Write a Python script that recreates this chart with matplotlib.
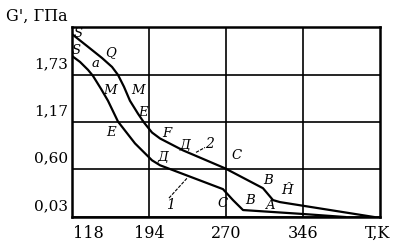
import matplotlib
matplotlib.use("Agg")
import matplotlib.pyplot as plt
from matplotlib.transforms import ScaledTranslation

# ---- data (T in K, G' in GPa) ----
t_curve1 = [118.0, 125.9, 133.8, 138.7, 146.6, 153.5, 163.4, 180.2, 197.0, 204.9,
            267.0, 276.9, 286.8, 346.0, 387.5]
g_curve1 = [1.954, 1.883, 1.788, 1.716, 1.562, 1.419, 1.170, 0.909, 0.707, 0.648,
            0.363, 0.232, 0.113, 0.066, 0.030]

t_curve2 = [118.0, 132.8, 147.6, 157.5, 163.4, 169.3, 175.2, 183.1, 189.1, 197.0,
            204.9, 227.6, 269.0, 306.5, 316.4, 323.3, 416.1]
g_curve2 = [2.215, 2.073, 1.930, 1.823, 1.728, 1.586, 1.419, 1.265, 1.158, 1.039,
            0.968, 0.826, 0.612, 0.374, 0.232, 0.208, 0.030]

x_ticks = [194, 270, 346]
x_tick_labels = ["194", "270", "346"]
y_ticks = [0.03, 0.60, 1.17, 1.73]
y_tick_labels = ["0,03", "0,60", "1,17", "1,73"]

point_labels = ["S", "S", "Q", "a", "M", "M", "E", "E", "F", "Д", "Д",
                "C", "C", "B", "B", "Ĥ", "A"]
point_label_t = [123.9, 121.9, 156.5, 140.7, 155.5, 183.1, 188.1, 156.5, 211.8,
                 229.5, 207.8, 280.9, 266.1, 311.5, 293.7, 330.2, 313.4]
point_label_g = [2.227, 2.025, 1.989, 1.859, 1.538, 1.538, 1.277, 1.039, 1.027,
                 0.885, 0.743, 0.766, 0.196, 0.469, 0.232, 0.351, 0.173]

curve_names = ["1", "2"]
curve_name_t = [214.7, 254.2]
curve_name_g = [0.173, 0.897]
leader_t = [[213.7, 231.5], [240.4, 249.3]]
leader_g = [[0.256, 0.493], [0.802, 0.861]]

# ---- figure ----
W, H = 406, 247
fig = plt.figure(figsize=(W / 100, H / 100), dpi=100)
ax = fig.add_axes([72 / W, 1 - 217 / H, (380 - 72) / W, (217 - 27) / H])

serif = ["DejaVu Serif"]

ax.plot(t_curve1, g_curve1, color="black", lw=1.6, solid_joinstyle="round")
ax.plot(t_curve2, g_curve2, color="black", lw=1.6, solid_joinstyle="round")

ax.set_xlim(118, 422)
ax.set_ylim(0.03, 2.30)

ax.set_xticks(x_ticks)
ax.set_xticklabels(x_tick_labels, family=serif, fontsize=11.5)
ax.set_yticks(y_ticks)
ax.set_yticklabels(y_tick_labels, family=serif, fontsize=11)
ax.tick_params(axis="both", length=0)
ax.tick_params(axis="x", pad=6)
ax.tick_params(axis="y", pad=3)
ax.grid(True, color="black", lw=1.2)
ax.set_axisbelow(True)

for lab in ax.get_yticklabels():
    lab.set_transform(lab.get_transform() + ScaledTranslation(0, 12 / 100, fig.dpi_scale_trans))

for s in ax.spines.values():
    s.set_linewidth(1.8)

xt = ax.get_xaxis_transform()
ax.text(133.8, -0.04, "118", transform=xt, ha="center", va="top",
        family=serif, fontsize=11.5)
ax.text(420, -0.04, "T,K", transform=xt, ha="center", va="top",
        family=serif, fontsize=11.5)

fig.text(6 / W, 1 - 16 / H, "G', ГПа", ha="left", va="center",
         family=serif, fontsize=11.5)

for s, t, g in zip(point_labels, point_label_t, point_label_g):
    ax.text(t, g, s, ha="center", va="center", family=serif, style="italic",
            fontsize=9.5, clip_on=False)

for s, t, g in zip(curve_names, curve_name_t, curve_name_g):
    ax.text(t, g, s, ha="center", va="center", family=serif, style="italic",
            fontsize=10)
for lt, lg in zip(leader_t, leader_g):
    ax.plot(lt, lg, color="black", lw=0.8, ls=(0, (3, 1.2)))

fig.savefig("out.png", dpi=100)
